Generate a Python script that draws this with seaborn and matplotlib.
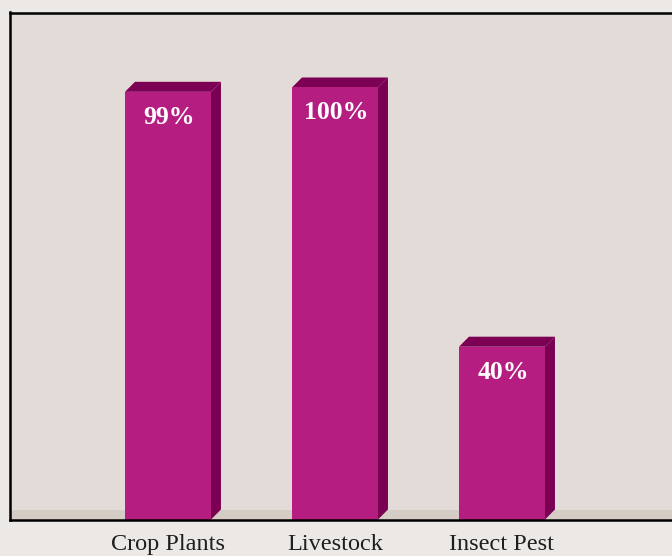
import matplotlib
matplotlib.use("Agg")
import matplotlib.pyplot as plt
from matplotlib.patches import Polygon
import seaborn as sns
import pandas as pd

categories = ["Crop Plants", "Livestock", "Insect Pest"]
values = [99, 100, 40]
value_labels = ["99%", "100%", "40%"]

front_color = "#B51E80"
side_color = "#7A0052"
top_color = "#7C0054"
fig_bg = "#ECE8E5"
panel_bg = "#E3DBD8"
floor_color = "#D5CCC6"
serif = ["Liberation Serif", "DejaVu Serif"]

sns.set_theme(style="white")
plt.rcParams["font.family"] = serif

W, H, DPI = 672, 556, 100
fig = plt.figure(figsize=(W / DPI, H / DPI), dpi=DPI, facecolor=fig_bg)
ax = fig.add_axes([10 / W, (H - 519.5) / H, 680 / W, 507 / H])
ax.set_facecolor(panel_bg)

df = pd.DataFrame({"category": categories, "value": values})
sns.barplot(data=df, x="category", y="value", color=front_color,
            saturation=1, width=0.515, ax=ax, zorder=3)

ax.set_xlim(-0.946, 3.126)
ax.set_ylim(0, 117.36)

# pixel-to-data scale for the extruded depth
x_per_px = (3.126 + 0.946) / 680
y_per_px = 117.36 / 507
dx, dy = 10 * x_per_px, 10 * y_per_px

# floor strip behind the bars
ax.axhspan(0, dy, color=floor_color, zorder=1, lw=0)

for bar in ax.patches[:len(values)]:
    bar.set_edgecolor("none")
    x0 = bar.get_x()
    x1 = x0 + bar.get_width()
    h = bar.get_height()
    side = Polygon([(x1, 0), (x1 + dx, dy), (x1 + dx, h + dy), (x1, h)],
                   closed=True, facecolor=side_color, edgecolor="none", zorder=2.9)
    top = Polygon([(x0, h), (x0 + dx, h + dy), (x1 + dx, h + dy), (x1, h)],
                  closed=True, facecolor=top_color, edgecolor="none", zorder=2.9)
    ax.add_patch(side)
    ax.add_patch(top)

for i, (v, lab) in enumerate(zip(values, value_labels)):
    ax.annotate(lab, xy=(i, v), xytext=(1, -25.5), textcoords="offset pixels",
                ha="center", va="center", color="white", fontsize=18.5,
                fontweight="bold", family=serif, zorder=5)

ax.set_xlabel("")
ax.set_ylabel("")
ax.set_yticks([])
ax.tick_params(axis="x", length=0, pad=10.5, labelsize=17.5, labelcolor="#1E1E1E")
for t in ax.get_xticklabels():
    t.set_family(serif)

for name in ["left", "top", "bottom", "right"]:
    ax.spines[name].set_color("black")
    ax.spines[name].set_linewidth(1.8)
    ax.spines[name].set_zorder(6)

fig.savefig("out.png", dpi=DPI, facecolor=fig_bg)
